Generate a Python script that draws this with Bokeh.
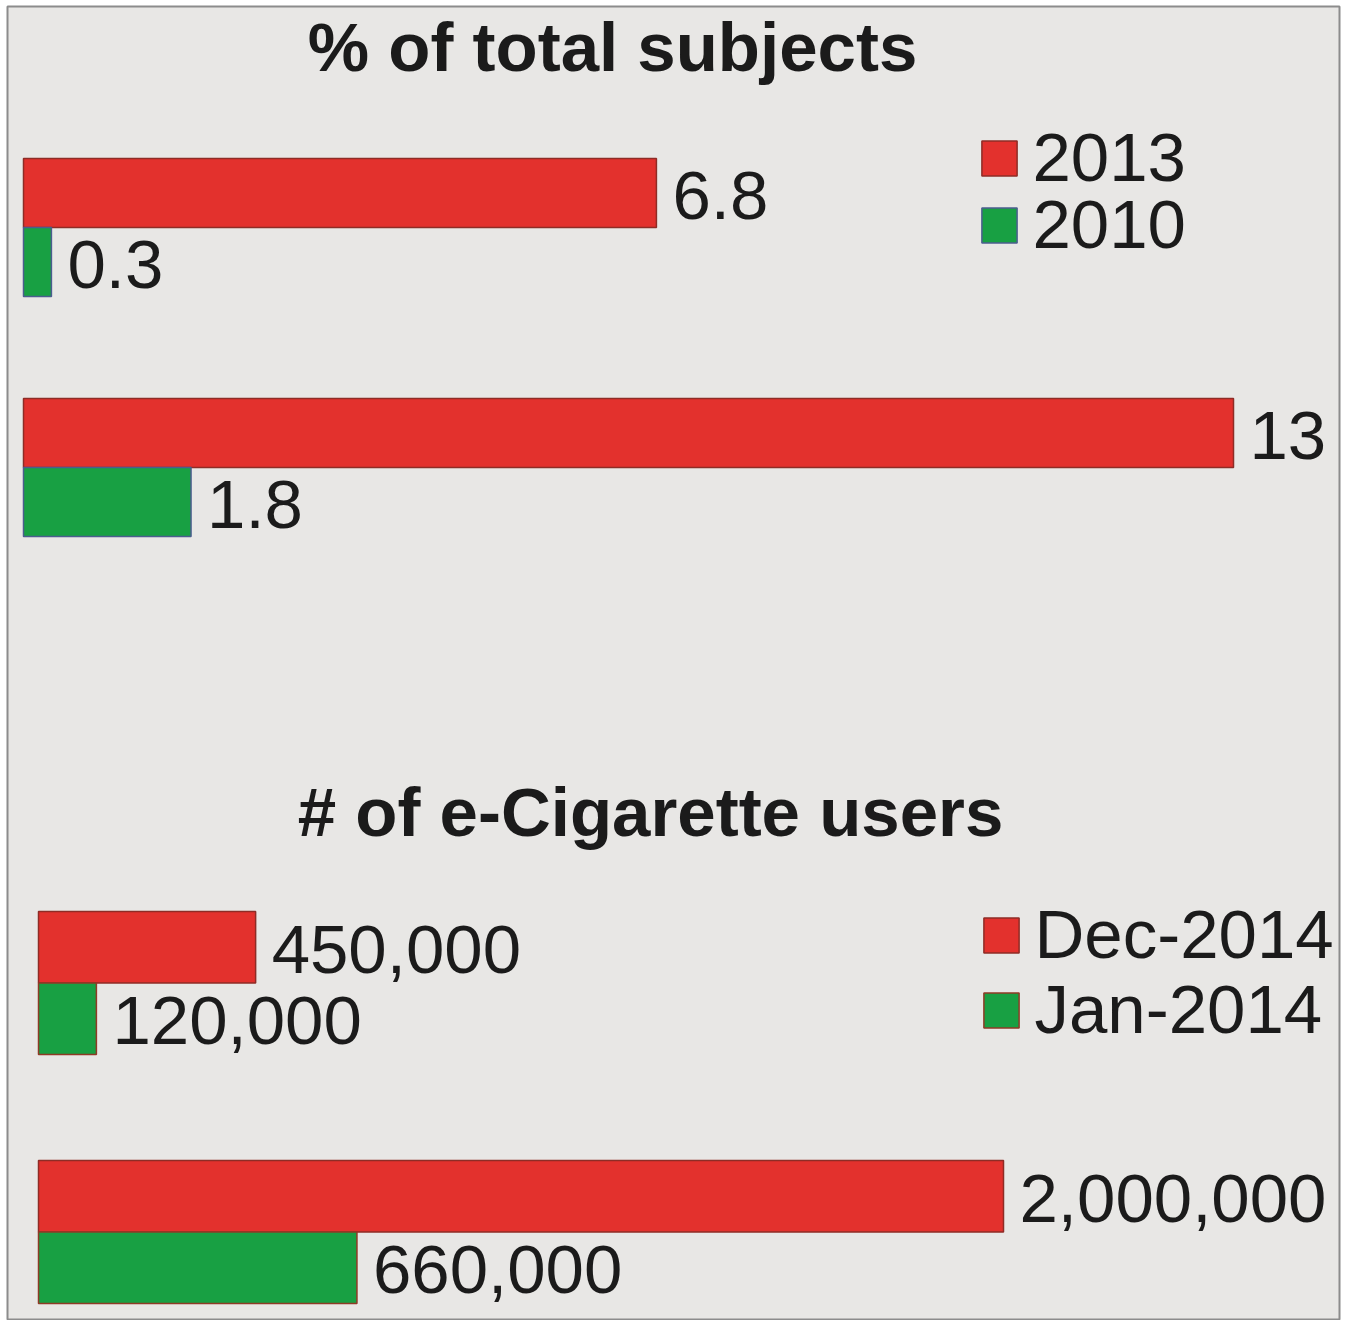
from bokeh.plotting import figure
from bokeh.models import Range1d, ColumnDataSource, Legend, LegendItem
from bokeh.core.properties import value
from bokeh.embed import file_html
from bokeh.resources import INLINE

# ---------------- data ----------------
pct_title = "% of total subjects"
pct_series = ["2013", "2010"]
pct_2013 = [6.8, 13]
pct_2010 = [0.3, 1.8]

users_title = "# of e-Cigarette users"
users_series = ["Dec-2014", "Jan-2014"]
users_dec = [450000, 2000000]
users_jan = [120000, 660000]

# ---------------- styling / layout ----------------
W, H = 1347, 1320
FL, FR, FT = 7, 1339, 6           # frame edges (px)
RED, RED_LINE = "#e3312d", "#8e2c26"
GREEN, GREEN_LINE_TOP, GREEN_LINE_BOT = "#18a043", "#4b5d8e", "#8e3a26"
BG = "#e8e7e5"
FONT = "Liberation Sans"
FS = "69px"
TXT = "#1b1b1b"

# pixel geometry of each panel's scale (origin px and px of max bar end)
pct_origin, pct_ref_px = 23, 1233
users_origin, users_ref_px = 38, 1003
k_pct = (pct_ref_px - pct_origin) / max(pct_2013 + pct_2010)
k_users = (users_ref_px - users_origin) / max(users_dec + users_jan)

p = figure(width=W, height=H, output_backend="svg", toolbar_location=None,
           x_range=Range1d(FL, FR), y_range=Range1d(H, FT),
           min_border_left=FL, min_border_right=W - FR, min_border_top=FT,
           min_border_bottom=0)
p.extra_x_ranges = {
    "pct": Range1d((FL - pct_origin) / k_pct, (FR - pct_origin) / k_pct),
    "users": Range1d((FL - users_origin) / k_users, (FR - users_origin) / k_users),
}
p.xaxis.visible = False
p.yaxis.visible = False
p.grid.visible = False
p.background_fill_color = BG
p.border_fill_color = "white"
p.outline_line_color = "#8c8c8c"
p.outline_line_width = 2

LABEL_DX = 16

# ---------------- top panel ----------------
top_h = 69
top_group_tops = [158, 398]
y_red_top = [t + top_h / 2 for t in top_group_tops]
y_green_top = [t + top_h * 1.5 for t in top_group_tops]

src_t1 = ColumnDataSource(dict(y=y_red_top, v=pct_2013,
                               lab=[f"{v:g}" for v in pct_2013]))
src_t2 = ColumnDataSource(dict(y=y_green_top, v=pct_2010,
                               lab=[f"{v:g}" for v in pct_2010]))
r_t1 = p.hbar(y="y", left=0, right="v", height=top_h, source=src_t1,
              x_range_name="pct", fill_color=RED, line_color=RED_LINE, line_width=1.5)
r_t2 = p.hbar(y="y", left=0, right="v", height=top_h, source=src_t2,
              x_range_name="pct", fill_color=GREEN, line_color=GREEN_LINE_TOP, line_width=1.5)
for s in (src_t1, src_t2):
    p.text(x="v", y="y", text="lab", source=s, x_range_name="pct",
           x_offset=LABEL_DX, y_offset=2, text_baseline="middle", text_align="left",
           text_font=value(FONT), text_font_size=FS, text_color=TXT)

p.text(x=[612], y=[47], text=[pct_title], text_align="center",
       text_baseline="middle", text_font=value(FONT), text_font_size="69px",
       text_font_style="bold", text_color=TXT)

# ---------------- bottom panel ----------------
bot_h = 71.5
bot_group_tops = [911, 1160]
y_red_bot = [t + bot_h / 2 for t in bot_group_tops]
y_green_bot = [t + bot_h * 1.5 for t in bot_group_tops]

src_b1 = ColumnDataSource(dict(y=y_red_bot, v=users_dec,
                               lab=[f"{v:,}" for v in users_dec]))
src_b2 = ColumnDataSource(dict(y=y_green_bot, v=users_jan,
                               lab=[f"{v:,}" for v in users_jan]))
r_b1 = p.hbar(y="y", left=0, right="v", height=bot_h, source=src_b1,
              x_range_name="users", fill_color=RED, line_color=RED_LINE, line_width=1.5)
r_b2 = p.hbar(y="y", left=0, right="v", height=bot_h, source=src_b2,
              x_range_name="users", fill_color=GREEN, line_color=GREEN_LINE_BOT, line_width=1.5)
for s in (src_b1, src_b2):
    p.text(x="v", y="y", text="lab", source=s, x_range_name="users",
           x_offset=LABEL_DX, y_offset=2, text_baseline="middle", text_align="left",
           text_font=value(FONT), text_font_size=FS, text_color=TXT)

p.text(x=[650], y=[812], text=[users_title], text_align="center",
       text_baseline="middle", text_font=value(FONT), text_font_size="69px",
       text_font_style="bold", text_color=TXT)

# ---------------- legends (one entry each, for exact row placement) ----------------
GLYPH = 44  # legend draws bar swatch at ~80% of the glyph box


def legend_entry(label, renderer, swatch_left, row_center, standoff):
    return Legend(items=[LegendItem(label=label, renderers=[renderer])],
                  location=(swatch_left - 4.5 - FL, H - (row_center + 39)),
                  orientation="vertical",
                  glyph_width=GLYPH, glyph_height=GLYPH, label_standoff=standoff,
                  padding=0, margin=0, spacing=0,
                  border_line_color=None, background_fill_alpha=0,
                  label_text_font=FONT, label_text_font_size=FS,
                  label_text_color=TXT)


for lg in (legend_entry(pct_series[0], r_t1, 981, 158, 12),
           legend_entry(pct_series[1], r_t2, 981, 225, 12),
           legend_entry(users_series[0], r_b1, 983, 935, 12),
           legend_entry(users_series[1], r_b2, 983, 1010, 12)):
    p.add_layout(lg, "center")

open("out.html", "w").write(file_html(p, INLINE))
